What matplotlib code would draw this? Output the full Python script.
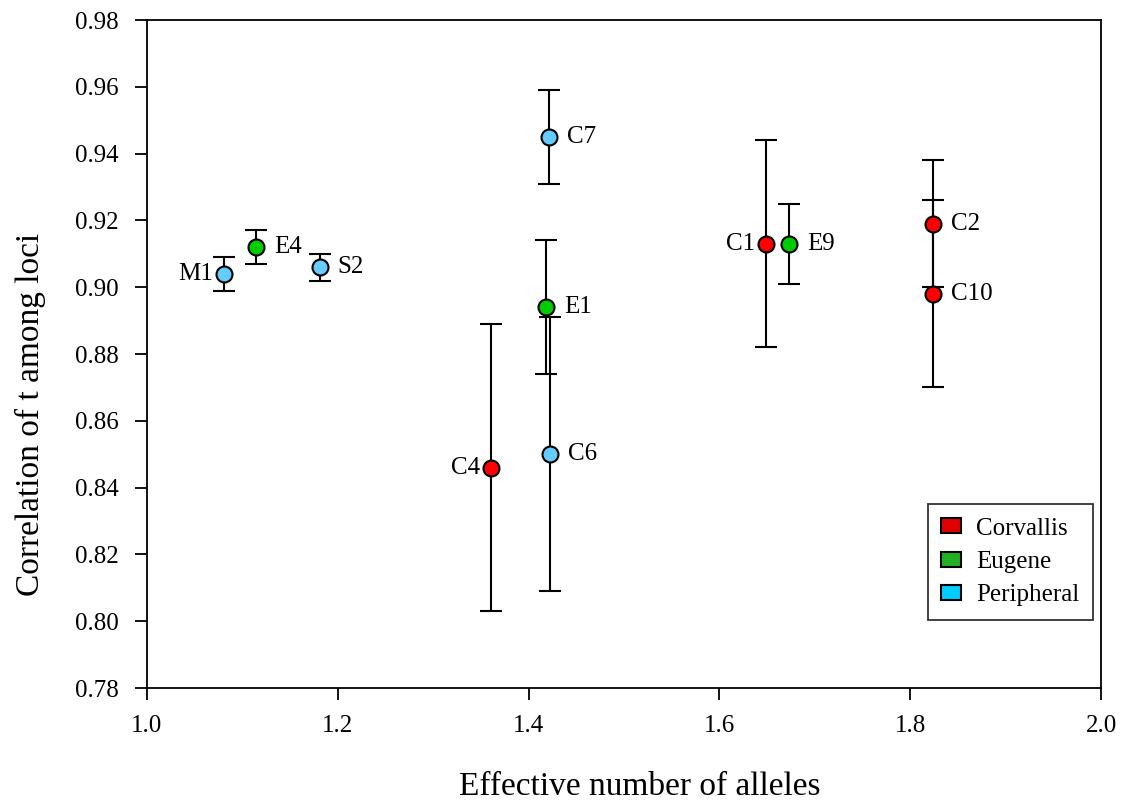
import matplotlib.pyplot as plt
from matplotlib.patches import Patch

plt.rcParams['font.family'] = ['Liberation Serif', 'DejaVu Serif']

# data
names = ['M1', 'E4', 'S2', 'C7', 'E1', 'C6', 'C4', 'C1', 'E9', 'C2', 'C10']
groups = ['P', 'E', 'P', 'P', 'E', 'P', 'C', 'C', 'E', 'C', 'C']
n_alleles = [1.081, 1.114, 1.181, 1.421, 1.418, 1.422, 1.361, 1.649, 1.673, 1.824, 1.824]
corr_t = [0.904, 0.912, 0.906, 0.945, 0.894, 0.850, 0.846, 0.913, 0.913, 0.919, 0.898]
err = [0.005, 0.005, 0.004, 0.014, 0.020, 0.041, 0.043, 0.031, 0.012, 0.019, 0.028]
label_side = ['l', 'r', 'r', 'r', 'r', 'r', 'l', 'l', 'r', 'r', 'r']

marker_col = {'C': '#ff0000', 'E': '#00cc00', 'P': '#66ccff'}
legend_col = {'C': '#e00000', 'E': '#22b022', 'P': '#00ccff'}
legend_names = {'C': 'Corvallis', 'E': 'Eugene', 'P': 'Peripheral'}

fig = plt.figure(figsize=(11.28, 8.01), dpi=100)
ax = fig.add_axes([0.1303, 0.141, 0.8458, 0.834])

for x, y, e, g, n, s in zip(n_alleles, corr_t, err, groups, names, label_side):
    ax.errorbar(x, y, yerr=e, fmt='none', ecolor='black', elinewidth=1.5,
                capsize=8, capthick=1.5, zorder=2)
    ax.plot(x, y, 'o', ms=11.5, mfc=marker_col[g], mec='black', mew=1.5, zorder=3)
    if s == 'r':
        ax.annotate(n, (x, y), xytext=(13, 0), textcoords='offset points',
                    ha='left', va='center', fontsize=18)
    else:
        ax.annotate(n, (x, y), xytext=(-8, 0), textcoords='offset points',
                    ha='right', va='center', fontsize=18)

ax.set_xlim(1.0, 2.0)
ax.set_ylim(0.78, 0.98)
ax.set_xticks([1.0, 1.2, 1.4, 1.6, 1.8, 2.0])
ax.set_yticks([0.78 + 0.02 * i for i in range(11)])
ax.xaxis.set_major_formatter(plt.FormatStrFormatter('%.1f'))
ax.yaxis.set_major_formatter(plt.FormatStrFormatter('%.2f'))
ax.tick_params(direction='out', length=8.5, width=1.3, labelsize=18)
ax.tick_params(axis='x', pad=11)
ax.tick_params(axis='y', pad=12)
for sp in ax.spines.values():
    sp.set_linewidth(1.3)

ax.set_xlabel('Effective number of alleles', fontsize=24, labelpad=25)
ax.set_ylabel('Correlation of t among loci', fontsize=24, labelpad=21)
ax.xaxis.label.set_x(0.517)
ax.yaxis.label.set_y(0.41)

handles = [Patch(facecolor=legend_col[k], edgecolor='black', linewidth=1.5,
                 label=legend_names[k]) for k in ['C', 'E', 'P']]
leg = ax.legend(handles=handles, loc='lower right', bbox_to_anchor=(0.992, 0.102),
                fontsize=18, frameon=True, fancybox=False, edgecolor='black',
                handlelength=0.8, handleheight=0.55, handletextpad=0.6,
                labelspacing=0.45, borderpad=0.55, borderaxespad=0)
leg.get_frame().set_linewidth(1.3)

fig.savefig('out.png', dpi=100)
